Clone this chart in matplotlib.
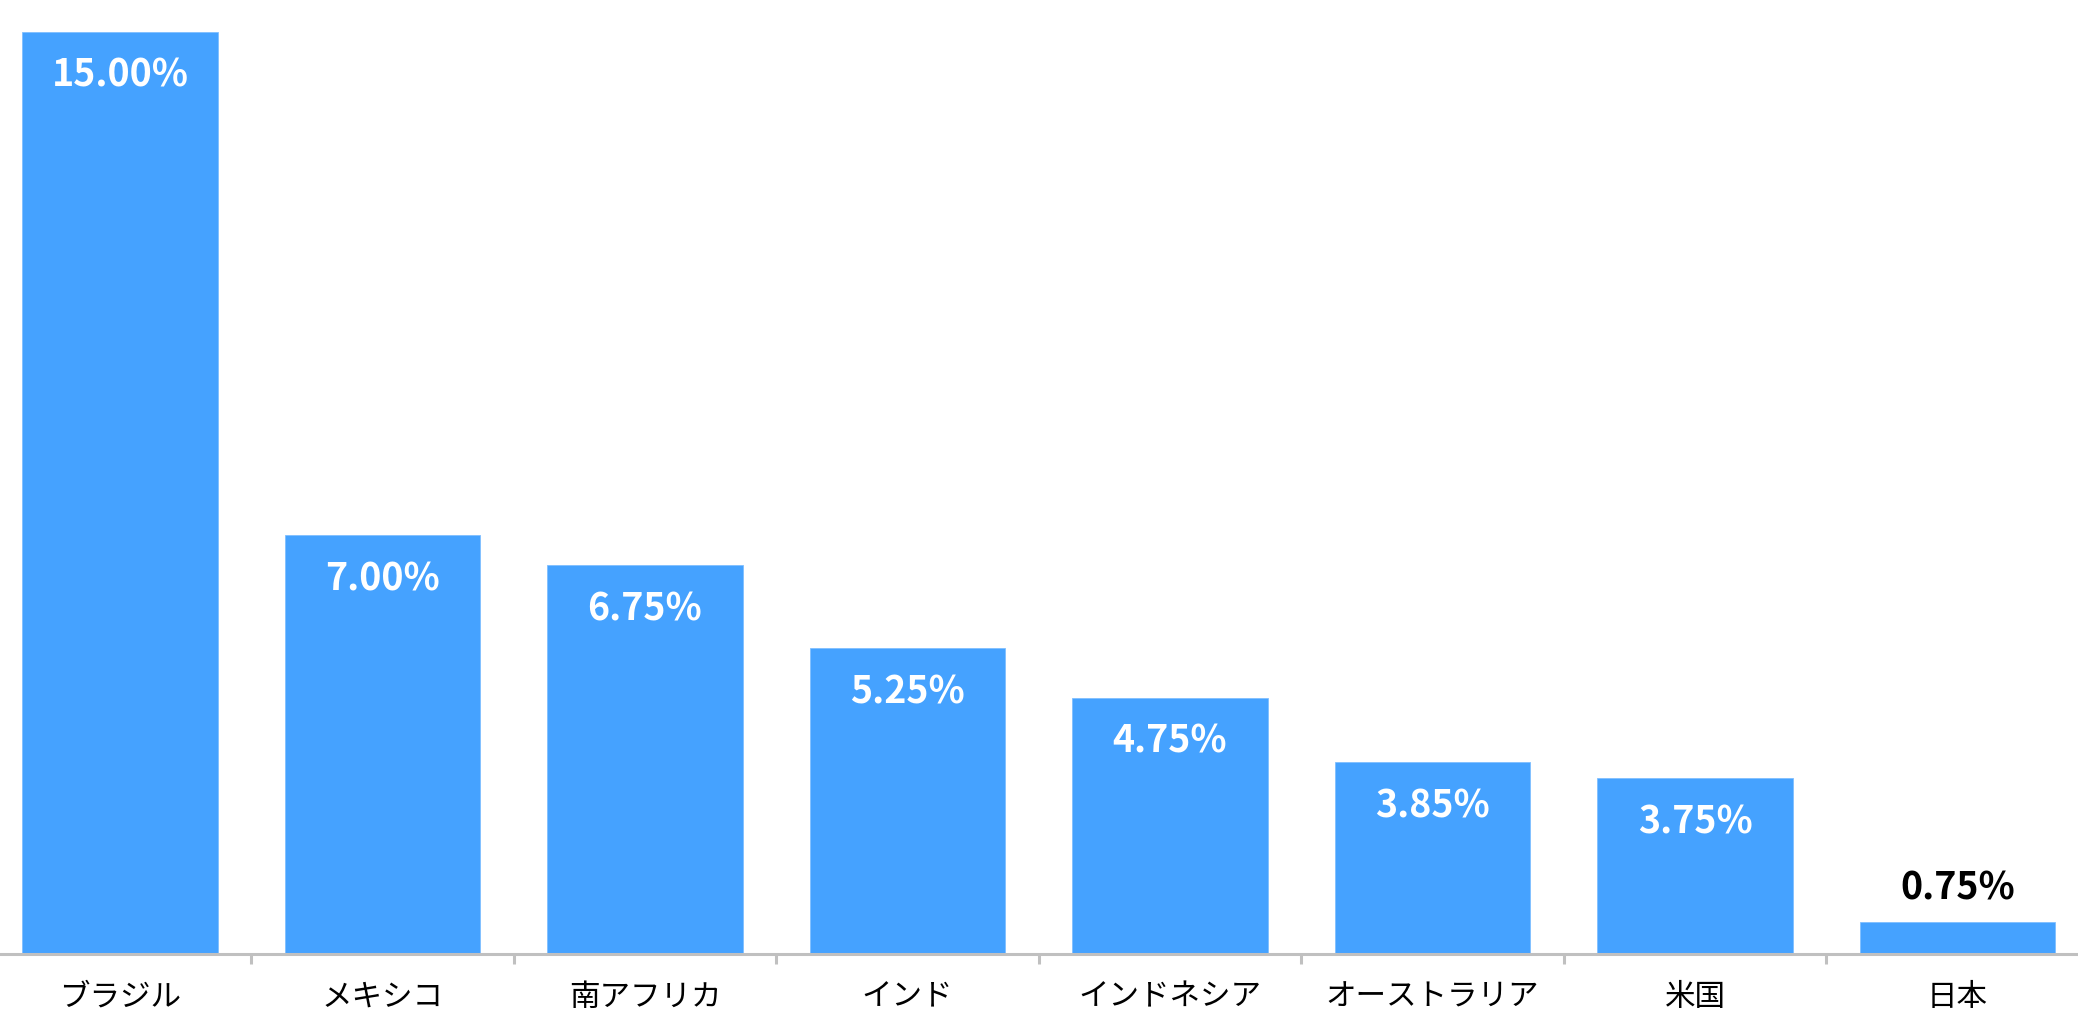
import matplotlib
matplotlib.use("Agg")
import matplotlib.pyplot as plt
from matplotlib.ticker import FixedLocator

plt.rcParams['font.family'] = ['Noto Sans CJK JP', 'DejaVu Sans']

# データ (棒の高さは図から読み取り、ラベルは表示されている値)
countries = ["ブラジル", "メキシコ", "南アフリカ", "インド", "インドネシア",
             "オーストラリア", "米国", "日本"]
bar_heights = [15.00, 6.81, 6.32, 4.98, 4.17, 3.12, 2.86, 0.52]
value_labels = ["15.00%", "7.00%", "6.75%", "5.25%", "4.75%", "3.85%", "3.75%", "0.75%"]

W, H = 2078, 1035
fig = plt.figure(figsize=(W / 100, H / 100), dpi=100)

# 軸の位置 (ピクセルから換算)
base_px = 954          # 0 の位置 (上から)
px_per_unit = 922.3 / 15
ax = fig.add_axes([0, (H - base_px) / H, 1, base_px / H])

x = list(range(len(countries)))
ax.bar(x, bar_heights, width=0.743, color="#45a2ff", edgecolor="#7fbfff",
       linewidth=0.6, zorder=2)

ax.set_xlim(-0.5 + 11.25 / 262.5, (W - 120) / 262.5)
ax.set_ylim(0, base_px / px_per_unit)

# 値ラベル
for xi, h, lab in zip(x, bar_heights, value_labels):
    if h * px_per_unit > 80:
        ax.annotate(lab, (xi, h), xytext=(0, -31.5), textcoords="offset points",
                    ha="center", va="center", color="white", fontsize=27,
                    fontweight="bold", zorder=3)
    else:
        ax.annotate(lab, (xi, h), xytext=(0, 24.5), textcoords="offset points",
                    ha="center", va="center", color="black", fontsize=27,
                    fontweight="bold", zorder=3)

# 軸の設定
for s in ["top", "right", "left"]:
    ax.spines[s].set_visible(False)
ax.spines["bottom"].set_color("#c0c0c0")
ax.spines["bottom"].set_linewidth(2.2)
ax.spines["bottom"].set_zorder(4)

ax.set_yticks([])
ax.set_xticks(x)
ax.set_xticklabels(countries, fontsize=22)
ax.tick_params(axis="x", which="major", length=0, pad=20)
ax.xaxis.set_minor_locator(FixedLocator([i + 0.5 for i in range(len(countries) - 1)]))
ax.tick_params(axis="x", which="minor", length=7.2, width=2.2, color="#c0c0c0",
               direction="out")

fig.savefig("out.png", dpi=100, facecolor="white")
